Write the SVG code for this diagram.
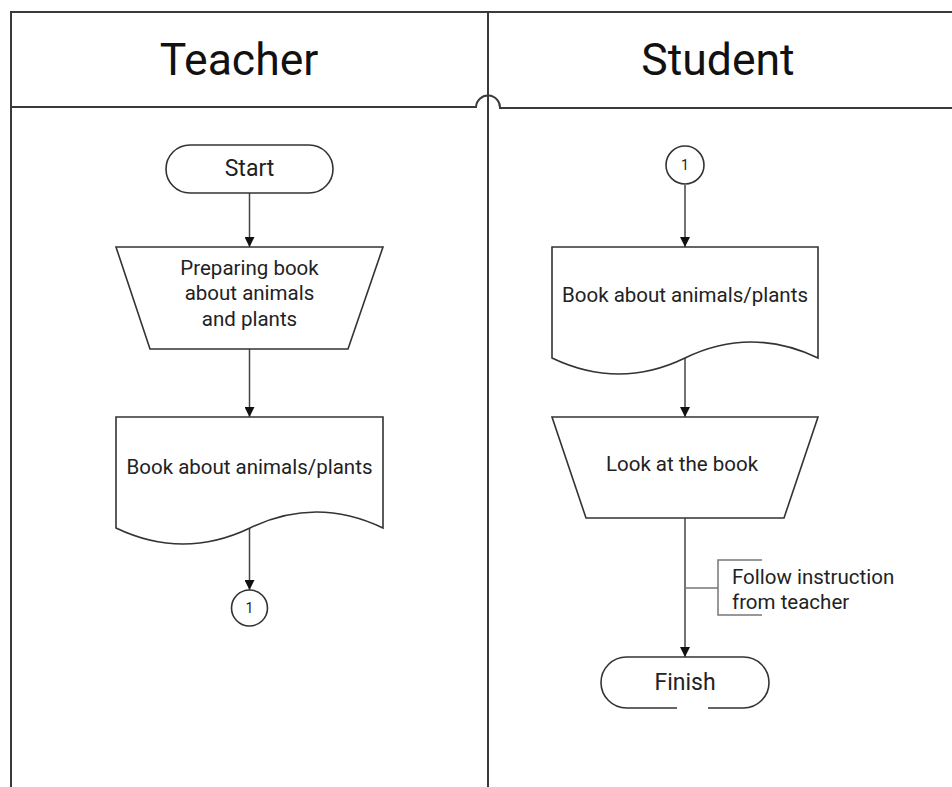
<svg xmlns="http://www.w3.org/2000/svg" width="952" height="787" viewBox="0 0 952 787">
<style>
.lane{fill:none;stroke:#3a3a3a;stroke-width:2}
.shape{fill:#fff;stroke:#333;stroke-width:1.6}
.conn{fill:none;stroke:#444;stroke-width:1.5}
.ann{fill:none;stroke:#777;stroke-width:1.5}
.t{font-family:Roboto,"Liberation Sans",sans-serif;font-size:20.5px;fill:#222;text-anchor:middle;dominant-baseline:central}
.big{font-size:23px}
.h{font-family:Roboto,"Liberation Sans",sans-serif;font-size:44.5px;fill:#111;text-anchor:middle;dominant-baseline:central}
</style>
<defs>
<marker id="arr" viewBox="0 0 10 10" refX="10" refY="5" markerWidth="10" markerHeight="10" markerUnits="userSpaceOnUse" orient="auto">
<path d="M0,0 L10,5 L0,10 z" fill="#111"/>
</marker>
</defs>
<rect width="952" height="787" fill="#fff"/>
<g id="lanes">
<path class="lane" d="M11,787 V12 H952"/>
<path class="lane" d="M488,12 V787"/>
<path class="lane" d="M11,107 H476 A12,12 0 0 1 500,108 H952"/>
<text class="h" x="239" y="60">Teacher</text>
<text class="h" x="718" y="60">Student</text>
</g>
<g id="connectors">
<path class="conn" d="M249.5,193 V247" marker-end="url(#arr)"/>
<path class="conn" d="M249.5,349 V417" marker-end="url(#arr)"/>
<path class="conn" d="M249.5,528 V590" marker-end="url(#arr)"/>
<path class="conn" d="M685,185 V247" marker-end="url(#arr)"/>
<path class="conn" d="M685,358 V417" marker-end="url(#arr)"/>
<path class="conn" d="M685,518 V657" marker-end="url(#arr)"/>
</g>
<g id="start">
<rect class="shape" x="166" y="145" width="167" height="48" rx="24"/>
<text class="t big" x="249.5" y="168">Start</text>
</g>
<g id="prepare">
<path class="shape" d="M116,247 H383 L348,349 H150 Z"/>
<text class="t" x="249.5" y="268">Preparing book</text>
<text class="t" x="249.5" y="293">about animals</text>
<text class="t" x="249.5" y="319">and plants</text>
</g>
<g id="book1">
<path class="shape" d="M116,417 H383 V528 Q316,496 250,528 Q183,560 116,528 Z"/>
<text class="t" x="249.5" y="467">Book about animals/plants</text>
</g>
<g id="conn1a">
<circle class="shape" cx="249.5" cy="608" r="18"/>
<text class="t" x="249.5" y="608" style="font-size:14px">1</text>
</g>
<g id="conn1b">
<circle class="shape" cx="685" cy="165" r="19"/>
<text class="t" x="685" y="165" style="font-size:14px">1</text>
</g>
<g id="book2">
<path class="shape" d="M552,247 H818 V358 Q751,326 685,358 Q619,390 552,358 Z"/>
<text class="t" x="685" y="295">Book about animals/plants</text>
</g>
<g id="look">
<path class="shape" d="M552,417 H818 L784,518 H586 Z"/>
<text class="t" x="682" y="464">Look at the book</text>
</g>
<g id="finish">
<rect x="601" y="657" width="168" height="51" rx="25.5" fill="#fff"/>
<path class="shape" fill="none" d="M708,708 H743.5 A25.5,25.5 0 0 0 743.5,657 H626.5 A25.5,25.5 0 0 0 626.5,708 H677" style="fill:none"/>
<text class="t big" x="685" y="682">Finish</text>
</g>
<g id="annotation">
<path class="ann" d="M685,588 H718 M762,560 H718 V615 H762"/>
<text class="t" x="732" y="577" style="text-anchor:start">Follow instruction</text>
<text class="t" x="732" y="602" style="text-anchor:start">from teacher</text>
</g>
</svg>
